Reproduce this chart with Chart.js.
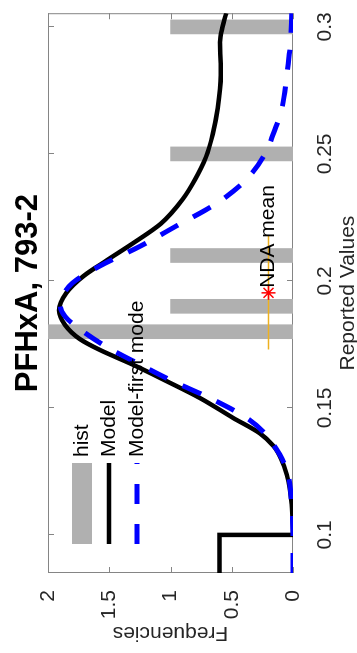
<!DOCTYPE html>
<html>
<head>
<meta charset="utf-8">
<script src="https://cdn.jsdelivr.net/npm/chart.js@4"></script>
<style>
  html, body { margin: 0; padding: 0; background: #fff; overflow: hidden; }
  /* the figure is drawn upright, then turned a quarter turn to the left */
  #wrap {
    position: absolute; left: 0; top: 0;
    width: 653px; height: 357px;
    transform-origin: 0 0;
    transform: translateY(653px) rotate(-90deg);
  }
</style>
</head>
<body>
<div id="wrap"><canvas id="chart" width="653" height="357"></canvas></div>
<script>
const FONT = '"Liberation Sans", Arial, Helvetica, sans-serif'

// Axis ticks
const xTickValues = [0.1, 0.15, 0.2, 0.25, 0.3]
const xTickLabels = ['0.1', '0.15', '0.2', '0.25', '0.3']
const yTickValues = [0, 0.5, 1, 1.5, 2]
const yTickLabels = ['0', '0.5', '1', '1.5', '2']

// Histogram of reported values
const histX = [0.18, 0.19, 0.21, 0.25, 0.30]
const histY = [2, 1, 1, 1, 1]

// Model: flat part below 0.1, then the smooth density
const stepX = [0.085, 0.1, 0.1]
const stepY = [0.6, 0.6, 0]
const modelX = [0.100, 0.112, 0.1236, 0.1302, 0.135, 0.140, 0.1461, 0.1539, 0.1605, 0.1671,
                0.1729, 0.1771, 0.1826, 0.1884, 0.1953, 0.2019, 0.2081, 0.2147, 0.2225, 0.2322,
                0.2399, 0.2488, 0.2578, 0.268, 0.281, 0.294, 0.300, 0.3054]
const modelY = [0, 0.01, 0.05, 0.10, 0.16, 0.27, 0.49, 0.76, 1.03, 1.31,
                1.58, 1.74, 1.86, 1.91, 1.85, 1.71, 1.52, 1.31, 1.08, 0.90,
                0.80, 0.71, 0.655, 0.615, 0.59, 0.595, 0.575, 0.545]

// Model, first mode only
const firstModeX = [0.085, 0.100, 0.112, 0.1236, 0.130, 0.1341, 0.140, 0.1461, 0.1539, 0.1605,
                    0.1671, 0.174, 0.181, 0.186, 0.1905, 0.1942, 0.1992, 0.2058, 0.2136, 0.2225,
                    0.2283, 0.2333, 0.240, 0.249, 0.258, 0.268, 0.281, 0.294, 0.3054]
const firstModeY = [0, 0, 0.01, 0.04, 0.09, 0.14, 0.23, 0.38, 0.68, 0.98,
                    1.25, 1.52, 1.74, 1.86, 1.90, 1.88, 1.80, 1.58, 1.25, 0.92,
                    0.70, 0.54, 0.38, 0.24, 0.16, 0.09, 0.05, 0.02, 0.01]

// NDA mean and its spread
const ndaMean = 0.1953
const ndaRange = [0.173, 0.2177]
const ndaFreq = 0.2
const ndaLabel = 'NDA mean'

const legendLabels = ['hist', 'Model', 'Model-first mode']

const pts = (xs, ys) => xs.map((x, i) => ({ x, y: ys[i] }))

const GRAY_BAR = '#b0b0b0'
const AXIS = '#858585'
const TEXT = '#262626'
const DASH = [20, 17]

// box round the plot with inward ticks on all four sides
const boxTicks = {
  id: 'boxTicks',
  beforeDatasetsDraw(chart) {
    const { ctx, chartArea: a, scales: { x, y } } = chart
    ctx.save()
    ctx.strokeStyle = AXIS
    ctx.lineWidth = 1
    ctx.strokeRect(a.left + 0.5, a.top + 0.5, a.width - 1, a.height - 1)
    ctx.beginPath()
    for (const t of x.ticks) {
      const px = Math.round(x.getPixelForValue(t.value)) + 0.5
      ctx.moveTo(px, a.bottom); ctx.lineTo(px, a.bottom - 6)
      ctx.moveTo(px, a.top); ctx.lineTo(px, a.top + 6)
    }
    for (const t of y.ticks) {
      const py = Math.round(y.getPixelForValue(t.value)) + 0.5
      ctx.moveTo(a.left, py); ctx.lineTo(a.left + 6, py)
      ctx.moveTo(a.right, py); ctx.lineTo(a.right - 6, py)
    }
    ctx.stroke()
    ctx.restore()
  },
}

// legend inside the axes (no box) + the NDA mean label
const overlay = {
  id: 'overlay',
  afterDatasetsDraw(chart) {
    const { ctx, chartArea: a, scales: { x, y } } = chart
    ctx.save()
    ctx.font = `21px ${FONT}`
    ctx.fillStyle = '#000'
    ctx.textBaseline = 'middle'
    ctx.textAlign = 'left'
    ctx.fillText(ndaLabel, x.getPixelForValue(ndaMean) + 5, y.getPixelForValue(ndaFreq))

    const x0 = a.left + 29, x1 = a.left + 110, tx = a.left + 116
    const rows = [a.top + 34, a.top + 61, a.top + 89]
    ctx.fillStyle = GRAY_BAR
    ctx.fillRect(x0, rows[0] - 10, x1 - x0, 20)
    ctx.strokeStyle = '#000'
    ctx.lineWidth = 4.5
    ctx.beginPath(); ctx.moveTo(x0, rows[1]); ctx.lineTo(x1, rows[1]); ctx.stroke()
    ctx.strokeStyle = '#0000ff'
    ctx.lineWidth = 5
    ctx.setLineDash([20, 20])
    ctx.beginPath(); ctx.moveTo(x0, rows[2]); ctx.lineTo(x1, rows[2]); ctx.stroke()
    ctx.setLineDash([])
    ctx.fillStyle = '#000'
    legendLabels.forEach((l, i) => ctx.fillText(l, tx, rows[i]))
    ctx.restore()
  },
}

new Chart(document.getElementById('chart'), {
  type: 'line',
  data: {
    datasets: [
      {
        type: 'bar',
        label: legendLabels[0],
        data: pts(histX, histY),
        backgroundColor: GRAY_BAR,
        barThickness: 14,
        order: 5,
      },
      {
        label: 'NDA range',
        data: pts(ndaRange, ndaRange.map(() => ndaFreq)),
        borderColor: '#EDB120',
        borderWidth: 1.5,
        pointRadius: 0,
        order: 4,
      },
      {
        label: legendLabels[1] + ' step',
        data: pts(stepX, stepY),
        borderColor: '#000',
        borderWidth: 4.5,
        pointRadius: 0,
        tension: 0,
        borderJoinStyle: 'miter',
        order: 3,
      },
      {
        label: legendLabels[1],
        data: pts(modelX, modelY),
        borderColor: '#000',
        borderWidth: 4.5,
        pointRadius: 0,
        cubicInterpolationMode: 'monotone',
        order: 3,
      },
      {
        label: legendLabels[2],
        data: pts(firstModeX, firstModeY),
        borderColor: '#0000ff',
        borderWidth: 5,
        borderDash: DASH,
        pointRadius: 0,
        cubicInterpolationMode: 'monotone',
        order: 2,
      },
      {
        label: ndaLabel,
        data: [{ x: ndaMean, y: ndaFreq }],
        showLine: false,
        pointStyle: 'star',
        pointRadius: 7,
        borderColor: '#ff0000',
        borderWidth: 1.5,
        order: 1,
      },
    ],
  },
  options: {
    responsive: false,
    animation: false,
    layout: { padding: { top: 0, left: 0, right: 5, bottom: 0 } },
    plugins: {
      legend: { display: false },
      tooltip: { enabled: false },
      title: {
        display: true,
        text: 'PFHxA, 793-2',
        fullSize: false,
        color: '#000',
        font: { family: FONT, size: 31, weight: 'bold', lineHeight: 1 },
        padding: { top: 13, bottom: 4 },
      },
    },
    scales: {
      x: {
        type: 'linear',
        min: 0.085,
        max: 0.3054,
        offset: false,
        grid: { display: false },
        border: { display: false },
        afterBuildTicks: s => { s.ticks = xTickValues.map(value => ({ value })) },
        afterFit: s => { s.height = 64 },
        ticks: {
          padding: 12,
          maxRotation: 0,
          color: TEXT,
          font: { family: FONT, size: 21 },
          callback: (v, i) => xTickLabels[i],
        },
        title: {
          display: true,
          text: 'Reported Values',
          color: TEXT,
          font: { family: FONT, size: 21, lineHeight: 0.8 },
          padding: 0,
        },
      },
      y: {
        min: 0,
        max: 2,
        grid: { display: false },
        border: { display: false },
        afterBuildTicks: s => { s.ticks = yTickValues.map(value => ({ value })) },
        afterFit: s => { s.width = 80 },
        ticks: {
          padding: 9,
          color: TEXT,
          font: { family: FONT, size: 21 },
          callback: (v, i) => yTickLabels[i],
        },
        title: {
          display: true,
          text: 'Frequencies',
          color: TEXT,
          font: { family: FONT, size: 21, lineHeight: 1.2 },
          padding: { top: 8, bottom: 0 },
        },
      },
    },
  },
  plugins: [boxTicks, overlay],
})
</script>
</body>
</html>
